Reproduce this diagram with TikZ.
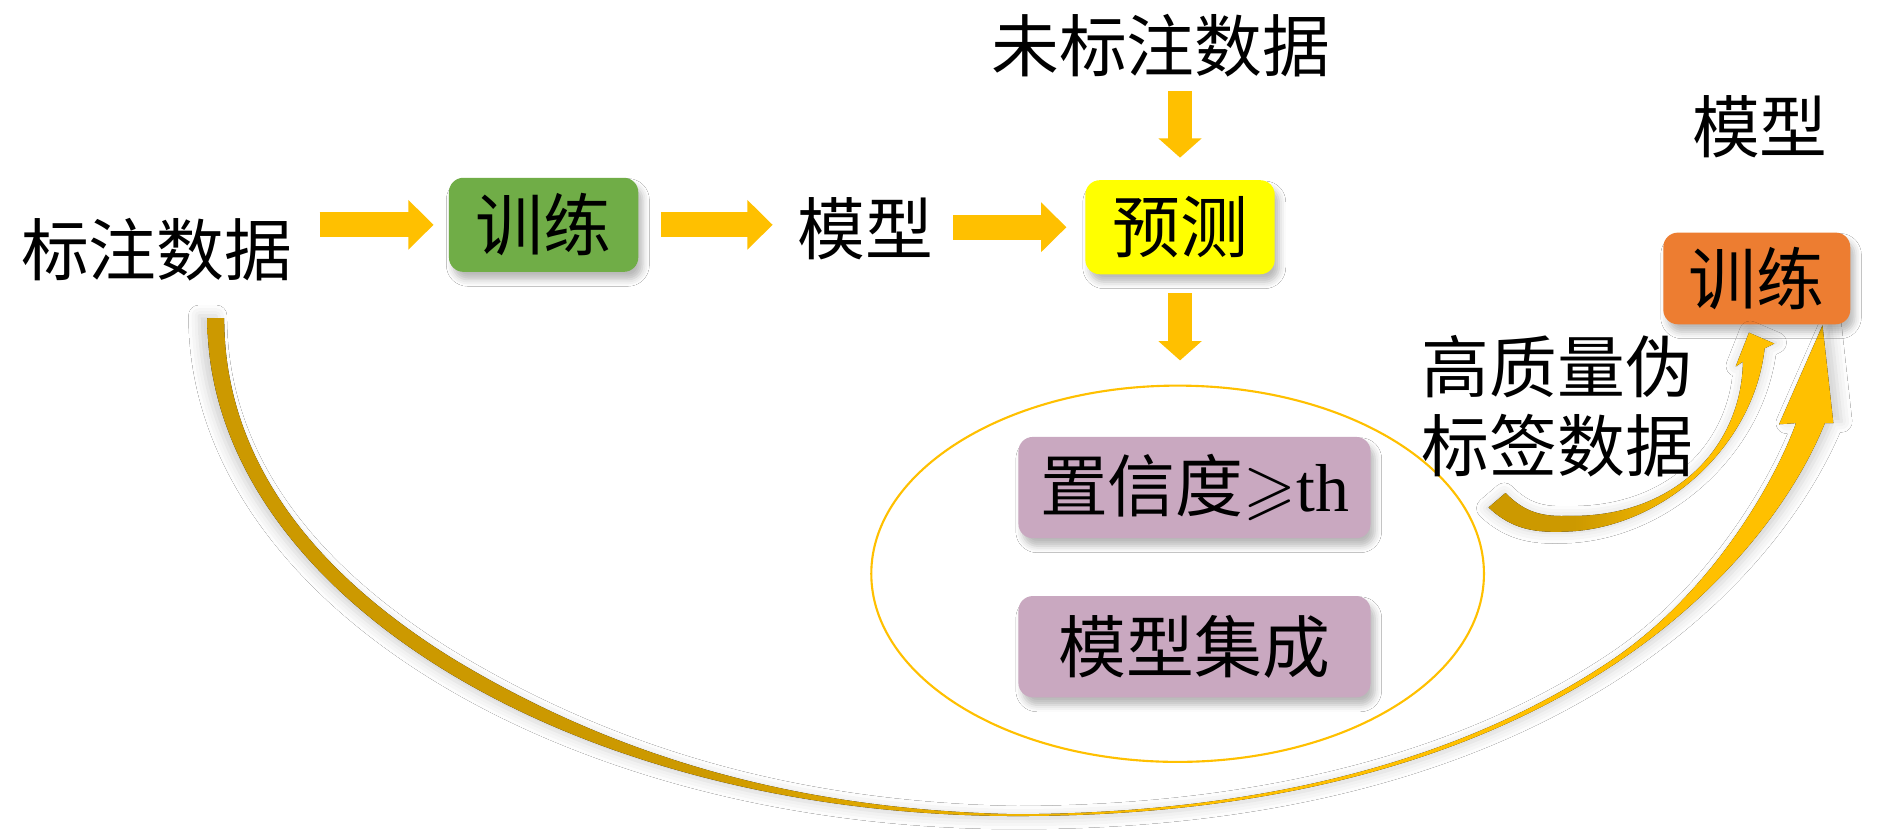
\documentclass[tikz,border=0pt]{standalone}
\usepackage{fontspec}
\usepackage{amssymb}
\setmainfont{Noto Sans CJK SC}
\newfontfamily\serifth{Liberation Serif}
\usetikzlibrary{arrows.meta,shapes.geometric,shadows.blur}
\definecolor{amb}{HTML}{FFC000}
\definecolor{dgold}{HTML}{CC9900}
\definecolor{gbox}{HTML}{70AD47}
\definecolor{ybox}{HTML}{FFFF00}
\definecolor{obox}{HTML}{ED7D31}
\definecolor{pbox}{HTML}{C9A8C0}
\pgfdeclarehorizontalshading{bigshade}{100bp}{color(0bp)=(dgold); color(25bp)=(dgold); color(40bp)=(dgold); color(55bp)=(amb); color(75bp)=(amb); color(100bp)=(amb)}
\pgfdeclarehorizontalshading{smallshade}{100bp}{color(0bp)=(dgold); color(25bp)=(dgold); color(40bp)=(dgold); color(62bp)=(amb); color(75bp)=(amb); color(100bp)=(amb)}
\tikzset{
  txt/.style={inner sep=0pt, font=\fontsize{16pt}{19pt}\selectfont},
  boxshadow/.style={blur shadow={shadow xshift=1pt, shadow yshift=-1.8pt, shadow blur radius=1.6pt, shadow opacity=28}},
  box/.style={txt, rounded corners=0.12cm, minimum width=1.57cm, minimum height=0.78cm, boxshadow},
  purplebox/.style={txt, fill=pbox, rounded corners=0.12cm, minimum width=2.92cm, minimum height=0.84cm, boxshadow},
  blk/.style={draw=amb, line width=0.21cm, -{Triangle[width=0.40cm,length=0.21cm]}},
  blkv/.style={draw=amb, line width=0.20cm, -{Triangle[width=0.35cm,length=0.16cm]}},
  curveshadow/.style={blur shadow={shadow xshift=0pt, shadow yshift=0pt, shadow scale=1.01, shadow blur radius=2.5pt, shadow opacity=18}}
}
\begin{document}
\begin{tikzpicture}[x=0.01cm,y=-0.01cm]
\useasboundingbox[fill=white] (0,0) rectangle (1568,693.6);

% long curved arrow from labelled data to the right-hand training box
\coordinate (bigstart) at (179,264);
\coordinate (bigtip) at (1512,270);
\fill[shading=bigshade, curveshadow]
  (172,264) .. controls (172,492) and (473,677) .. (844,677)
  .. controls (1072,677) and (1228.5,622.75) .. (1333.5,554.9)
  .. controls (1438.5,487) and (1492,405.5) .. (1514,351)
  -- (1521,351) -- (bigtip) -- (1476,352) -- (1490,351)
  .. controls (1473.4,398) and (1419.5,494.5) .. (1331.3,551.5)
  .. controls (1227,620) and (1072,674.5) .. (844,675.5)
  .. controls (650,672) and (500,622) .. (375,546)
  .. controls (256,472) and (186,378) .. (186,264) -- cycle;

% nodes
\node[txt] (ld) at (130,207) {标注数据};
\node[box, fill=gbox] (tr1) at (451,186.5) {训练};
\node[txt] (m1) at (718,190) {模型};
\node[box, fill=ybox] (pred) at (979,188.5) {预测};
\node[txt] (ul) at (963,38) {未标注数据};
\node[draw=amb, line width=0.5pt, ellipse, inner sep=0pt, minimum width=5.08cm, minimum height=3.12cm] (ell) at (977,476) {};
\node[purplebox] (conf) at (991,404.5) {置信度$\geqslant${\serifth th}};
\node[purplebox] (ens) at (991,536.5) {模型集成};
\node[txt] (m2) at (1460,105) {模型};
\node[box, fill=obox, minimum width=1.55cm, minimum height=0.76cm] (tr2) at (1457.5,231) {训练};
\node[txt, align=center, font=\fontsize{16pt}{18.8pt}\selectfont] (hq) at (1292,337) {高质量伪\\标签数据};

% straight block arrows
\draw[blk, shorten <=0.22cm, shorten >=0.12cm] (ld.east |- tr1.west) -- (tr1.west);
\draw[blk, shorten <=0.18cm, shorten >=0.20cm] (tr1.east) -- (m1.west |- tr1.east);
\draw[blk, shorten <=0.16cm, shorten >=0.15cm] (m1.east |- pred.west) -- (pred.west);
\draw[blkv, shorten <=0.11cm, shorten >=0.18cm] (pred.north |- ul.south) -- (pred.north);
\draw[blkv, shorten <=0.15cm, shorten >=0.20cm] (pred.south) -- (pred.south |- ell.north);

% small curved arrow (pseudo-labelled data to training)
\coordinate (smalltip) at (1451,276);
\fill[shading=smallshade, curveshadow]
  (1235,421) .. controls (1255,440) and (1275,442) .. (1300,441)
  .. controls (1380,438) and (1455,370) .. (1464,289)
  -- (1472,285) -- (smalltip) -- (1440,304) -- (1446,300)
  .. controls (1445,370) and (1390,430) .. (1300,428)
  .. controls (1275,429) and (1262,422) .. (1249,409) -- cycle;
\end{tikzpicture}
\end{document}
